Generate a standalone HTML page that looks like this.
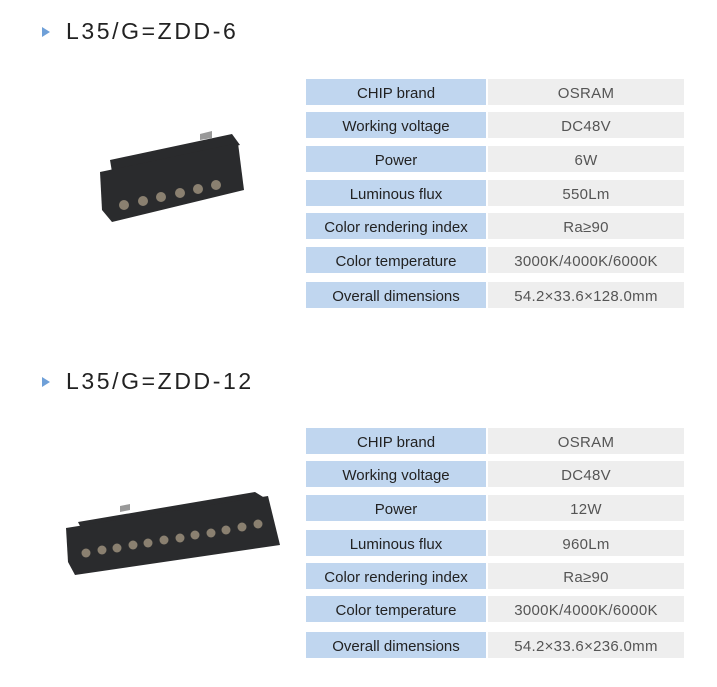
<!DOCTYPE html>
<html><head><meta charset="utf-8"><style>
body{margin:0;width:717px;height:687px;background:#fff;position:relative;overflow:hidden;font-family:"Liberation Sans",sans-serif}
.t{position:absolute;left:66px;font-size:23px;letter-spacing:2.6px;color:#222}
.tri{position:absolute;width:0;height:0;border-top:5px solid transparent;border-bottom:5px solid transparent;border-left:8px solid #6fa0d8}
.r{position:absolute;height:26px;line-height:29px;font-size:15px;text-align:center}
.a{left:306px;width:180px;background:#c0d6ef;color:#222}
.b{left:488px;width:196px;background:#eeeeee;color:#555;letter-spacing:.3px}
</style></head><body>
<div class="tri" style="left:42px;top:27px"></div><div class="t" style="top:18px">L35/G=ZDD-6</div>
<div class="tri" style="left:42px;top:377px"></div><div class="t" style="top:368px">L35/G=ZDD-12</div>
<svg width="717" height="687" style="position:absolute;left:0;top:0">
<g fill="#2a2b2d">
<polygon points="110,160 232,134 240,145 112,172"/>
<polygon points="100,172 238,143 244,190 112,222 102,210"/>
<polygon points="200,134 212,131 212,138 200,140" fill="#999"/>
</g>
<g fill="#8a8070">
<circle cx="124" cy="205" r="5"/><circle cx="143" cy="201" r="5"/><circle cx="161" cy="197" r="5"/><circle cx="180" cy="193" r="5"/><circle cx="198" cy="189" r="5"/><circle cx="216" cy="185" r="5"/>
</g>
<g fill="#2a2b2d">
<polygon points="78,522 255,492 268,500 82,530"/>
<polygon points="66,528 268,496 280,545 75,575 68,562"/>
<polygon points="120,506 130,504 130,510 120,512" fill="#999"/>
</g>
<g fill="#8a8070">
<circle cx="86" cy="553" r="4.5"/><circle cx="102" cy="550" r="4.5"/><circle cx="117" cy="548" r="4.5"/><circle cx="133" cy="545" r="4.5"/><circle cx="148" cy="543" r="4.5"/><circle cx="164" cy="540" r="4.5"/><circle cx="180" cy="538" r="4.5"/><circle cx="195" cy="535" r="4.5"/><circle cx="211" cy="533" r="4.5"/><circle cx="226" cy="530" r="4.5"/><circle cx="242" cy="527" r="4.5"/><circle cx="258" cy="524" r="4.5"/>
</g>
</svg>
<div class="r a" style="top:79px">CHIP brand</div><div class="r b" style="top:79px">OSRAM</div>
<div class="r a" style="top:112px">Working voltage</div><div class="r b" style="top:112px">DC48V</div>
<div class="r a" style="top:146px">Power</div><div class="r b" style="top:146px">6W</div>
<div class="r a" style="top:180px">Luminous flux</div><div class="r b" style="top:180px">550Lm</div>
<div class="r a" style="top:213px">Color rendering index</div><div class="r b" style="top:213px">Ra≥90</div>
<div class="r a" style="top:247px">Color temperature</div><div class="r b" style="top:247px">3000K/4000K/6000K</div>
<div class="r a" style="top:282px">Overall dimensions</div><div class="r b" style="top:282px">54.2×33.6×128.0mm</div>

<div class="r a" style="top:428px">CHIP brand</div><div class="r b" style="top:428px">OSRAM</div>
<div class="r a" style="top:461px">Working voltage</div><div class="r b" style="top:461px">DC48V</div>
<div class="r a" style="top:495px">Power</div><div class="r b" style="top:495px">12W</div>
<div class="r a" style="top:530px">Luminous flux</div><div class="r b" style="top:530px">960Lm</div>
<div class="r a" style="top:563px">Color rendering index</div><div class="r b" style="top:563px">Ra≥90</div>
<div class="r a" style="top:596px">Color temperature</div><div class="r b" style="top:596px">3000K/4000K/6000K</div>
<div class="r a" style="top:632px">Overall dimensions</div><div class="r b" style="top:632px">54.2×33.6×236.0mm</div>
</body></html>
